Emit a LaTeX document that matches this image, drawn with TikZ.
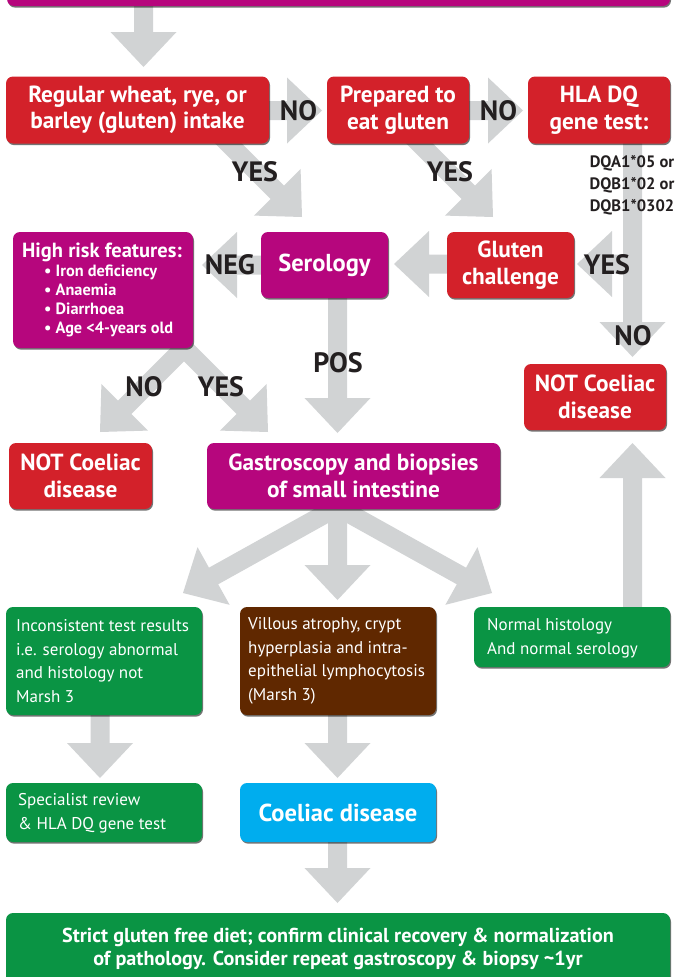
\documentclass[tikz,border=0pt]{standalone}
\usepackage{fontspec}
\setmainfont{PT Sans}
\usetikzlibrary{calc,shadows}
\definecolor{cmag}{RGB}{182,6,125}
\definecolor{cred}{RGB}{211,33,42}
\definecolor{cgreen}{RGB}{10,148,68}
\definecolor{cbrown}{RGB}{96,40,0}
\definecolor{ccyan}{RGB}{0,173,238}
\definecolor{agray}{RGB}{209,211,212}
\definecolor{lbl}{RGB}{35,31,32}
\newcommand{\fatarr}[2]{%
  \coordinate (fac) at ($(#2)!35pt!(#1)$);
  \fill[agray] ($(#1)!9.5pt!90:(#2)$) -- ($(fac)!9.5pt!-90:(#1)$) -- ($(fac)!33pt!-90:(#1)$) -- (#2)
    -- ($(fac)!33pt!90:(#1)$) -- ($(fac)!9.5pt!90:(#1)$) -- ($(#1)!9.5pt!-90:(#2)$) -- cycle;}
\tikzset{
  box/.style={rounded corners=7pt, inner sep=0pt, text=white, align=center,
    drop shadow={shadow xshift=1pt, shadow yshift=-1.6pt, opacity=.55, fill=black}},
  bt/.style={font=\fontsize{23.3}{26.5}\selectfont\bfseries},
  lab/.style={font=\fontsize{28}{28}\selectfont\bfseries, text=lbl, inner sep=0pt},
  rt/.style={font=\fontsize{17}{23.5}\selectfont, text=white, align=left, inner sep=0pt, anchor=west},
}
\begin{document}
\begin{tikzpicture}[x=1pt,y=-1pt]
\useasboundingbox (0,0) rectangle (679,977);
% arrow end points
\coordinate (t1) at (143.5,67);
\coordinate (s1) at (143.5,0);
\coordinate (s2) at (265,110.5);
\coordinate (t2) at (322,110.5);
\coordinate (s3) at (465,110.5);
\coordinate (t3) at (523,110.5);
\coordinate (s4) at (207,122);
\coordinate (t4) at (302,217);
\coordinate (s5) at (398,122);
\coordinate (t5) at (493,217);
\coordinate (s6) at (632.5,140);
\coordinate (t6) at (632.5,357);
\coordinate (s7) at (632.5,264);
\coordinate (t7) at (577,264);
\coordinate (s8) at (452,264);
\coordinate (t8) at (394,264);
\coordinate (s9) at (265,265);
\coordinate (t9) at (202,265);
\coordinate (s10) at (337.5,295);
\coordinate (t10) at (337.5,433);
\coordinate (s11) at (184,348);
\coordinate (t11) at (100,432);
\coordinate (t12) at (268,432);
\coordinate (s13) at (337.5,507);
\coordinate (t13) at (183,593);
\coordinate (t14) at (337.5,600);
\coordinate (t15) at (492,593);
\coordinate (s16) at (632.5,612);
\coordinate (t16) at (632.5,443);
\coordinate (s17) at (100,712);
\coordinate (t17) at (100,778);
\coordinate (s18) at (337.5,712);
\coordinate (t18) at (337.5,778);
\coordinate (s19) at (337.5,840);
\coordinate (t19) at (337.5,903);
% arrows
\fatarr{s1}{t1}
\fatarr{s2}{t2}
\fatarr{s3}{t3}
\fatarr{s4}{t4}
\fatarr{s5}{t5}
\fatarr{s6}{t6}
\fatarr{s7}{t7}
\fatarr{s8}{t8}
\fatarr{s9}{t9}
\fatarr{s10}{t10}
\fatarr{s11}{t11}
\fatarr{s11}{t12}
\fatarr{s13}{t13}
\fatarr{s13}{t14}
\fatarr{s13}{t15}
\fatarr{s16}{t16}
\fatarr{s17}{t17}
\fatarr{s18}{t18}
\fatarr{s19}{t19}
% boxes
\node[box, fill=cmag, minimum width=663pt, minimum height=62pt] (top) at (338.5,-25) {};
\node[box, bt, fill=cred, minimum width=263pt, minimum height=67pt] (reg) at (137.5,110) {Regular wheat, rye, or\\barley (gluten) intake};
\node[box, bt, fill=cred, minimum width=142pt, minimum height=67pt] (prep) at (398,110) {Prepared to\\eat gluten};
\node[box, bt, fill=cred, minimum width=142pt, minimum height=67pt] (hla) at (599,110) {HLA DQ\\gene test:};
\node[box, font=\fontsize{24.5}{26}\selectfont\bfseries, fill=cmag, minimum width=127pt, minimum height=66pt] (sero) at (324.5,265) {Serology};
\node[box, bt, fill=cred, minimum width=127pt, minimum height=66pt] (glu) at (510.5,265) {Gluten\\challenge};
\node[box, fill=cmag, minimum width=180pt, minimum height=116pt] (hr) at (103,290) {};
\node[box, bt, fill=cred, minimum width=143pt, minimum height=66pt] (notl) at (80.5,476) {NOT Coeliac\\disease};
\node[box, bt, fill=cmag, minimum width=293pt, minimum height=66pt] (gas) at (353.5,476) {Gastroscopy and biopsies\\of small intestine};
\node[box, bt, fill=cred, minimum width=142pt, minimum height=66pt] (notr) at (595,397) {NOT Coeliac\\disease};
\node[box, fill=cgreen, minimum width=196pt, minimum height=108pt] (inc) at (104,661) {};
\node[box, fill=cbrown, minimum width=196pt, minimum height=108pt] (vil) at (338,661) {};
\node[box, fill=cgreen, minimum width=196pt, minimum height=60pt] (nor) at (572,637) {};
\node[box, fill=cgreen, minimum width=196pt, minimum height=59pt] (spe) at (104,812.5) {};
\node[box, font=\fontsize{24.5}{26}\selectfont\bfseries, fill=ccyan, minimum width=196pt, minimum height=59pt] (coe) at (338,812.5) {Coeliac disease};
\node[box, font=\fontsize{20.2}{23.5}\selectfont\bfseries, fill=cgreen, minimum width=664pt, minimum height=72pt] (fin) at (338,949) {Strict gluten free diet; confirm clinical recovery \& normalization\\of pathology. Consider repeat gastroscopy \& biopsy \textasciitilde1yr};
% box texts
\node[font=\fontsize{20.5}{20}\selectfont\bfseries, text=white, inner sep=0pt] (hrt) at (102,252) {High risk features:};
\node[font=\fontsize{16.3}{19}\selectfont\bfseries, text=white, inner sep=0pt, align=left, anchor=north west] (hrb) at (44,265) {\textbullet\ Iron deficiency\\\textbullet\ Anaemia\\\textbullet\ Diarrhoea\\\textbullet\ Age <4-years old};
\node[rt] (inct) at (16,661) {Inconsistent test results\\i.e. serology abnormal\\and histology not\\Marsh 3};
\node[rt] (vilt) at (248,661) {Villous atrophy, crypt\\hyperplasia and intra-\\epithelial lymphocytosis\\(Marsh 3)};
\node[rt] (nort) at (487,638) {Normal histology\\And normal serology};
\node[rt] (spet) at (18,813) {Specialist review\\\& HLA DQ gene test};
% labels
\node[lab] (l1) at (298.5,111) {NO};
\node[lab] (l2) at (498.5,111) {NO};
\node[lab] (l3) at (255,172) {YES};
\node[lab] (l4) at (450,172) {YES};
\node[font=\fontsize{16.5}{22}\selectfont\bfseries, text=lbl, inner sep=0pt, align=center] (dq) at (632,185) {DQA1*05 or\\DQB1*02 or\\DQB1*0302};
\node[lab] (l5) at (607,265) {YES};
\node[lab] (l6) at (633,336) {NO};
\node[lab] (l7) at (230,265) {NEG};
\node[lab] (l8) at (338,363) {POS};
\node[lab] (l9) at (144,387) {NO};
\node[lab] (l10) at (221,387) {YES};
\end{tikzpicture}
\end{document}
